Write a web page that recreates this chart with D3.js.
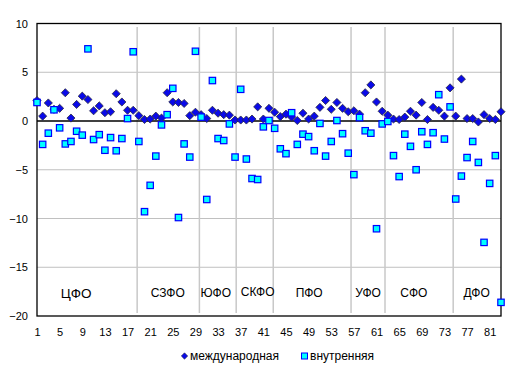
<!DOCTYPE html>
<html>
<head>
<meta charset="utf-8">
<script src="https://cdn.jsdelivr.net/npm/d3@7"></script>
<style>
  body { margin: 0; background: #fff; }
  svg text { font-family: "Liberation Sans", Arial, sans-serif; fill: #000; }
</style>
</head>
<body>
<div id="chart"></div>
<script>
// regions numbered 1..83
const regions = d3.range(1, 84);

const intl = [
    2.1, 0.5, 1.85, 1.2, 1.3, 2.9, 0.3, 1.7, 2.55, 2.2,
    1.05, 1.55, 0.85, 0.95, 2.8, 1.95, 1.1, 1.1, 0.55, 0.15,
    0.2, 0.5, 0.3, 2.9, 1.95, 1.9, 1.8, 0.55, 0.9, 0.65,
    0.25, 1.1, 0.8, 0.65, 0.6, 0.1, 0.1, 0.1, 0.2, 1.45,
    0.2, 1.3, 0.9, 0.45, 0.7, 0.4, 0.05, 0.8, 0.2, 0.5,
    1.4, 2.1, 1.2, 1.9, 1.3, 0.95, 1.05, 0.7, 2.9, 3.7,
    1.95, 1.0, 0.6, 0.2, 0.15, 0.4, 1.0, 0.6, 1.9, 0.15,
    1.4, 1.1, 0.5, 3.4, 0.5, 4.3, 0.25, 0.25, -0.1, 0.65,
    0.25, 0.15, 0.95
];

const domestic = [
    1.9, -2.4, -1.25, 1.15, -0.7, -2.35, -2.1, -1.05, -1.45, 7.4,
    -1.9, -1.4, -3.0, -1.7, -3.05, -1.8, 0.25, 7.1, -2.1, -9.3,
    -6.6, -3.6, -0.4, 0.65, 3.35, -9.9, -2.35, -3.7, 7.15, 0.4,
    -8.05, 4.15, -1.8, -2.0, -0.3, -3.7, 3.25, -3.9, -5.9, -6.0,
    -0.6, 0.05, -0.75, -2.85, -3.35, 0.85, -2.4, -1.35, -1.6, -3.05,
    -0.25, -3.6, -2.1, 0.05, -1.3, -3.3, -5.5, 0.35, -1.0, -1.25,
    -11.05, -0.3, -0.05, -3.55, -5.7, -1.35, -2.6, -5.0, -1.1, -2.4,
    -1.2, 2.7, -1.85, 1.45, -8.0, -5.65, -3.75, -2.1, -4.25, -12.45,
    -6.4, -3.55, -18.6
];

const xTicks = [1, 5, 9, 13, 17, 21, 25, 29, 33, 37, 41, 45, 49, 53, 57, 61, 65, 69, 73, 77, 81];
const yTicks = [10, 5, 0, -5, -10, -15, -20];
const gridValues = [5, -5, -10, -15];

// federal districts: separator positions and label positions (in region units)
const separators = [18.7, 29.7, 36.2, 42.75, 56.5, 62.5, 74.55];
const districtNames = ['ЦФО', 'СЗФО', 'ЮФО', 'СКФО', 'ПФО', 'УФО', 'СФО', 'ДФО'];
const districtX = [7.9, 24.1, 32.6, 40.0, 49.1, 59.5, 67.6, 78.7];

const seriesNames = ['международная', 'внутренняя'];

const width = 520, height = 376;
const margin = { top: 23.5, right: 19, bottom: 60, left: 37 };

const svg = d3.select('#chart').append('svg')
    .attr('width', width)
    .attr('height', height);

const x = d3.scaleLinear()
    .domain([1, 83])
    .range([margin.left, width - margin.right]);

const y = d3.scaleLinear()
    .domain([-20, 10])
    .range([height - margin.bottom, margin.top]);

// horizontal gridlines
svg.append('g')
    .selectAll('line')
    .data(gridValues)
    .join('line')
    .attr('x1', x(1))
    .attr('x2', x(83))
    .attr('y1', d => y(d))
    .attr('y2', d => y(d))
    .attr('stroke', '#c0c0c0')
    .attr('stroke-width', 1);

// district separators
svg.append('g')
    .selectAll('line')
    .data(separators)
    .join('line')
    .attr('x1', d => x(d))
    .attr('x2', d => x(d))
    .attr('y1', y(9.65))
    .attr('y2', y(-19.7))
    .attr('stroke', '#c8c8c8')
    .attr('stroke-width', 1.5);

// plot border
svg.append('rect')
    .attr('x', x(1))
    .attr('y', y(10))
    .attr('width', x(83) - x(1))
    .attr('height', y(-20) - y(10))
    .attr('fill', 'none')
    .attr('stroke', '#000')
    .attr('stroke-width', 1.3);

// zero line
svg.append('line')
    .attr('x1', x(1))
    .attr('x2', x(83))
    .attr('y1', y(0))
    .attr('y2', y(0))
    .attr('stroke', '#000')
    .attr('stroke-width', 1.3);

// y axis labels
const yAxis = svg.append('g')
    .attr('transform', `translate(${x(1) - 9},0)`)
    .call(d3.axisLeft(y).tickValues(yTicks).tickSize(0).tickPadding(0));
yAxis.select('.domain').remove();
yAxis.selectAll('text')
    .style('font-size', '11px')
    .style('font-family', '"Liberation Sans", Arial, sans-serif');

// x axis labels
const xAxis = svg.append('g')
    .attr('transform', `translate(0,${y(-20) + 12})`)
    .call(d3.axisBottom(x).tickValues(xTicks).tickSize(0).tickPadding(0));
xAxis.select('.domain').remove();
xAxis.selectAll('text')
    .style('font-size', '11px')
    .style('font-family', '"Liberation Sans", Arial, sans-serif');

// district labels
svg.append('g')
    .selectAll('text')
    .data(districtNames)
    .join('text')
    .attr('x', (d, i) => x(districtX[i]))
    .attr('y', (d, i) => y(i === 3 ? -17.55 : -17.65))
    .attr('dy', '0.35em')
    .attr('text-anchor', 'middle')
    .style('font-size', (d, i) => i === 0 ? '13.5px' : '12px')
    .text(d => d);

const diamond = d3.symbol().type(d3.symbolDiamond2).size(42);

// international series (diamonds)
svg.append('g')
    .selectAll('path')
    .data(intl)
    .join('path')
    .attr('transform', (d, i) => `translate(${x(regions[i])},${y(d)})`)
    .attr('d', diamond)
    .attr('fill', '#0a0ae8')
    .attr('stroke', '#2a2a40')
    .attr('stroke-width', 0.8);

// domestic series (squares)
const sq = 6.4;
svg.append('g')
    .selectAll('rect')
    .data(domestic)
    .join('rect')
    .attr('x', (d, i) => x(regions[i]) - sq / 2)
    .attr('y', d => y(d) - sq / 2)
    .attr('width', sq)
    .attr('height', sq)
    .attr('fill', '#00ffff')
    .attr('stroke', '#0000ff')
    .attr('stroke-width', 1.2);

// legend
const legend = svg.append('g').attr('transform', `translate(0,${y(-20) + 40})`);

legend.append('path')
    .attr('transform', 'translate(184.5,0)')
    .attr('d', d3.symbol().type(d3.symbolDiamond2).size(26))
    .attr('fill', '#0a0ae8')
    .attr('stroke', '#2a2a40')
    .attr('stroke-width', 0.6);
legend.append('text')
    .attr('x', 190)
    .attr('y', 0)
    .attr('dy', '0.35em')
    .style('font-size', '12px')
    .text(seriesNames[0]);

legend.append('rect')
    .attr('x', 301.5)
    .attr('y', -3)
    .attr('width', 6)
    .attr('height', 6)
    .attr('fill', '#00ffff')
    .attr('stroke', '#0000ff')
    .attr('stroke-width', 1);
legend.append('text')
    .attr('x', 310)
    .attr('y', 0)
    .attr('dy', '0.35em')
    .style('font-size', '12px')
    .text(seriesNames[1]);
</script>
</body>
</html>
